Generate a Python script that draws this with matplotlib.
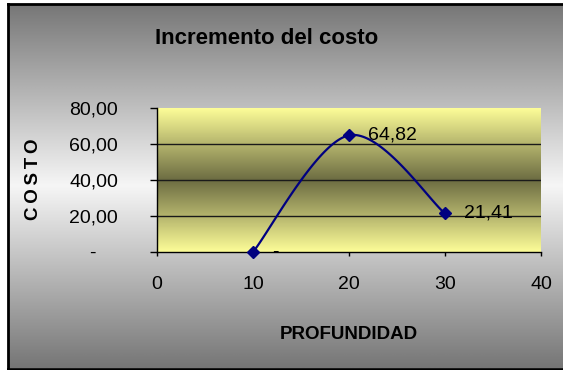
import numpy as np
import matplotlib
matplotlib.use("Agg")
import matplotlib.pyplot as plt
from matplotlib import rcParams

rcParams.update({
    "font.family": ["Liberation Sans", "DejaVu Sans"],
    "figure.dpi": 100,
})

profundidad = [10, 20, 30]
costo = [0.0, 64.82, 21.41]
x_ticks = [0, 10, 20, 30, 40]
y_ticks = [0, 20, 40, 60, 80]
titulo = "Incremento del costo"
x_label = "PROFUNDIDAD"
y_label = "C\u2009O\u2009S\u2009T\u2009O"


def fmt(v):
    # formato contable: 0 -> "-", resto con coma decimal
    if v == 0:
        return "-"
    return ("%.2f" % v).replace(".", ",")


def excel_smooth(xs, ys, n=60):
    # curva suavizada estilo Excel (bezier con tension 1/6)
    pts = np.column_stack([xs, ys]).astype(float)
    out = []
    t = np.linspace(0, 1, n)[:, None]
    for i in range(len(pts) - 1):
        p0 = pts[max(i - 1, 0)]
        p1 = pts[i]
        p2 = pts[i + 1]
        p3 = pts[min(i + 2, len(pts) - 1)]
        c1 = p1 + (p2 - p0) / 6
        c2 = p2 - (p3 - p1) / 6
        seg = ((1 - t) ** 3) * p1 + 3 * ((1 - t) ** 2) * t * c1 + 3 * (1 - t) * t ** 2 * c2 + t ** 3 * p2
        out.append(seg)
    out = np.vstack(out)
    return out[:, 0], out[:, 1]


W, H = 563, 370
fig = plt.figure(figsize=(W / 100, H / 100), facecolor="white")

# fondo degradado gris con borde negro
bg = fig.add_axes([8 / W, 1.5 / H, 1.02 - 8 / W, 1 - 5 / H])
bg.set_zorder(-1)
g = np.abs(np.linspace(-1, 1, 256))
edge, mid = 118, 246
vals = (mid - (mid - edge) * g) / 255
bg.imshow(np.repeat(vals[:, None, None], 3, axis=2) * np.ones((1, 2, 1)),
          aspect="auto", extent=[0, 1, 0, 1], interpolation="bilinear")
bg.set_xticks([])
bg.set_yticks([])
for s in bg.spines.values():
    s.set_color("black")
    s.set_linewidth(2)

ax = fig.add_axes([157 / W, 1 - 252 / H, 384 / W, 144 / H])
ax.set_zorder(1)
ax.patch.set_alpha(0)

# degradado amarillo del area de trazado
light = np.array([253, 253, 152]) / 255
dark = np.array([108, 108, 66]) / 255
gg = np.abs(np.linspace(-1, 1, 256))[:, None]
grad = dark + (light - dark) * gg
ax.imshow(grad[:, None, :] * np.ones((1, 2, 1)), aspect="auto",
          extent=[x_ticks[0], x_ticks[-1], y_ticks[0], y_ticks[-1]],
          interpolation="bilinear", zorder=0)

for yv in y_ticks[1:-1]:
    ax.axhline(yv, color="#1a1a1a", lw=1.0, zorder=1)

sx, sy = excel_smooth(profundidad, costo)
ax.plot(sx, sy, color="#000080", lw=1.6, zorder=3, clip_on=False)
ax.plot(profundidad, costo, ls="none", marker="D", ms=6.5, color="#000080",
        zorder=4, clip_on=False)

for xv, yv in zip(profundidad, costo):
    ax.annotate(fmt(yv), (xv, yv), xytext=(13.5, 0), textcoords="offset points",
                va="center", ha="left", fontsize=14, zorder=5)

ax.set_xlim(x_ticks[0], x_ticks[-1])
ax.set_ylim(y_ticks[0], y_ticks[-1])
ax.set_xticks(x_ticks)
ax.set_xticklabels([str(v) for v in x_ticks], fontsize=14)
ax.set_yticks(y_ticks)
ax.set_yticklabels([fmt(v) + ("    " if v == 0 else "") for v in y_ticks], fontsize=14)
ax.tick_params(axis="y", direction="out", length=5, width=1, pad=23)
ax.tick_params(axis="x", direction="out", length=3, width=1, pad=14)

for s in ["top", "right"]:
    ax.spines[s].set_visible(False)
for s in ["left", "bottom"]:
    ax.spines[s].set_color("black")
    ax.spines[s].set_linewidth(1)
    ax.spines[s].set_zorder(2)

ax.set_xlabel(x_label, fontsize=13.5, fontweight="bold")
ax.xaxis.set_label_coords(0.5, (252 - 326) / 144)
ax.set_ylabel(y_label, fontsize=13.5, fontweight="bold")
ax.yaxis.set_label_coords((42 - 157) / 384, (252 - 179) / 144)

fig.text(267 / W, 1 - 38 / H, titulo, fontsize=16, fontweight="bold",
         ha="center", va="center")

fig.savefig("out.png", dpi=100, facecolor="white")
